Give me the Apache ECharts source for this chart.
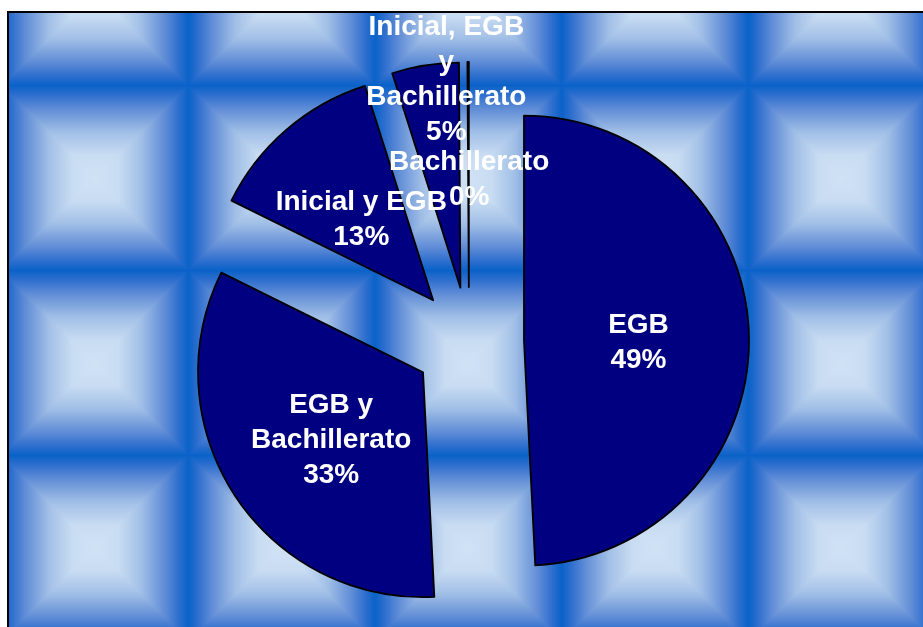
<!DOCTYPE html>
<html>
<head>
<meta charset="utf-8">
<script src="https://cdn.jsdelivr.net/npm/echarts@6/dist/echarts.min.js"></script>
<style>
  html, body { margin: 0; padding: 0; background: #ffffff; }
  #chart { width: 923px; height: 627px; }
</style>
</head>
<body>
<div id="chart"></div>
<script>
// Distribution of schools by level of education offered (percent of total)
const categories = ['EGB', 'EGB y Bachillerato', 'Inicial y EGB', 'Inicial, EGB y Bachillerato', 'Bachillerato'];
const shares = [49.2, 33.1, 12.8, 4.8, 0.1];
// Wrapped text shown on each slice
const labelTexts = ['EGB', 'EGB y\nBachillerato', 'Inicial y EGB', 'Inicial, EGB\ny\nBachillerato', 'Bachillerato'];
// Small label shifts (px) away from the default inside position
const labelNudges = [[2, 2], [15, 5], [29, 27], [20, -95], [1, 5]];

// Blue "pillow" tile texture for the plot area
function makeTileTexture(left, top, w, h) {
  const c = document.createElement('canvas');
  c.width = w; c.height = h;
  const ctx = c.getContext('2d');
  const img = ctx.createImageData(w, h);
  const px = 186.67, py = 185, x0 = 95, y0 = 178;
  const stops = [
    [0.00, [208, 226, 245]],
    [0.25, [200, 220, 242]],
    [0.50, [160, 190, 230]],
    [0.75, [ 95, 140, 214]],
    [0.90, [ 45, 110, 206]],
    [1.00, [ 10,  98, 200]]
  ];
  function colorAt(t) {
    for (let k = 1; k < stops.length; k++) {
      if (t <= stops[k][0]) {
        const a = stops[k - 1], b = stops[k];
        const f = (t - a[0]) / (b[0] - a[0]);
        return [0, 1, 2].map(i => a[1][i] + (b[1][i] - a[1][i]) * f);
      }
    }
    return stops[stops.length - 1][1];
  }
  for (let j = 0; j < h; j++) {
    let dy = (top + j + 0.5) - y0;
    dy = dy - py * Math.round(dy / py);
    const ty = Math.abs(dy) / (py / 2);
    for (let i = 0; i < w; i++) {
      let dx = (left + i + 0.5) - x0;
      dx = dx - px * Math.round(dx / px);
      const tx = Math.abs(dx) / (px / 2);
      const col = colorAt(Math.min(1, Math.max(tx, ty)));
      const o = (j * w + i) * 4;
      img.data[o] = col[0]; img.data[o + 1] = col[1]; img.data[o + 2] = col[2]; img.data[o + 3] = 255;
    }
  }
  ctx.putImageData(img, 0, 0);
  return c;
}

const chart = echarts.init(document.getElementById('chart'), null, { renderer: 'canvas' });
const texture = makeTileTexture(8, 12, 915, 615);

const sliceStyle = { color: '#000080', borderColor: '#000000', borderWidth: 1.8 };
const labelStyle = {
  show: true,
  position: 'inside',
  color: '#ffffff',
  fontSize: 28,
  fontWeight: 'bold',
  fontFamily: '"Liberation Sans", Arial, sans-serif',
  lineHeight: 35,
  align: 'center',
  formatter: p => labelTexts[p.dataIndex] + '\n' + Math.round(p.percent) + '%'
};

chart.setOption({
  animation: false,
  backgroundColor: '#ffffff',
  graphic: [
    { type: 'image', z: 0, silent: true, style: { image: texture, x: 8, y: 12, width: 915, height: 615 } },
    { type: 'rect', z: 1, silent: true, shape: { x: 8, y: 12, width: 920, height: 620 },
      style: { fill: 'none', stroke: '#000000', lineWidth: 2 } }
  ],
  series: [{
    type: 'pie',
    z: 5,
    center: [469, 342],
    radius: 225,
    startAngle: 90,
    clockwise: true,
    selectedMode: 'multiple',
    selectedOffset: 55,
    avoidLabelOverlap: false,
    data: categories.map((name, i) => ({ name: name, value: shares[i], selected: true })),
    itemStyle: sliceStyle,
    label: labelStyle,
    labelLine: { show: false },
    labelLayout: p => ({ dx: labelNudges[p.dataIndex][0], dy: labelNudges[p.dataIndex][1] }),
    emphasis: { disabled: true },
    select: { itemStyle: sliceStyle, label: labelStyle }
  }]
});
</script>
</body>
</html>
